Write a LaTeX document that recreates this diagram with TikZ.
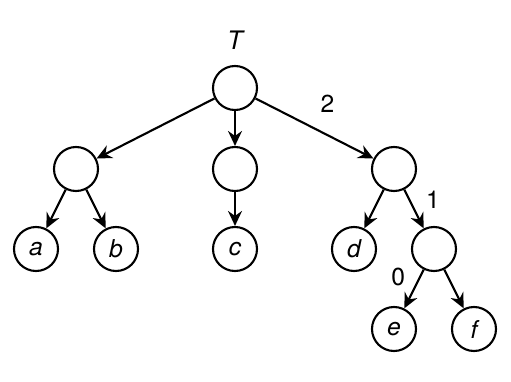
\documentclass[tikz,border=0pt]{standalone}
\usepackage{fontspec}
\setmainfont{TeX Gyre Heros}
\usetikzlibrary{positioning,arrows.meta}

\begin{document}
\begin{tikzpicture}[on grid,
    vert/.style={draw,circle,minimum size=0.88cm,inner sep=0pt,line width=1.2pt,font=\fontsize{14}{16}\selectfont\itshape},
    lab/.style={font=\fontsize{14}{16}\selectfont},
    edge/.style={-{Stealth[length=0.3cm,width=0.28cm,inset=0.1cm]},line width=1.2pt}]
    \useasboundingbox (-4.7,-5.86) rectangle (5.52,1.76);

    \node [vert] (root) {};
    \node [above=0.96cm of root,font=\fontsize{14.5}{16}\selectfont\itshape] (T) {T};
    \node [vert,below left=1.62cm and 3.18cm of root] (L) {};
    \node [vert,below=1.62cm of root] (M) {};
    \node [vert,below right=1.62cm and 3.18cm of root] (R) {};

    \node [vert,below left=1.6cm and 0.8cm of L] (a) {a};
    \node [vert,below right=1.6cm and 0.8cm of L] (b) {b};
    \node [vert,below=1.6cm of M] (c) {c};
    \node [vert,below left=1.6cm and 0.8cm of R] (d) {d};
    \node [vert,below right=1.6cm and 0.8cm of R] (n) {};
    \node [vert,below left=1.6cm and 0.8cm of n] (e) {e};
    \node [vert,below right=1.6cm and 0.8cm of n] (f) {f};

    \draw [edge] (root) -- (L);
    \draw [edge] (root) -- (M);
    \draw [edge] (root) -- node[lab,pos=0.61,yshift=0.63cm] (w2) {2} (R);
    \draw [edge] (L) -- (a);
    \draw [edge] (L) -- (b);
    \draw [edge] (M) -- (c);
    \draw [edge] (R) -- (d);
    \draw [edge] (R) -- node[lab,pos=0.26,xshift=0.47cm] (w1) {1} (n);
    \draw [edge] (n) -- node[lab,pos=0.18,xshift=-0.44cm] (w0) {0} (e);
    \draw [edge] (n) -- (f);
\end{tikzpicture}
\end{document}
